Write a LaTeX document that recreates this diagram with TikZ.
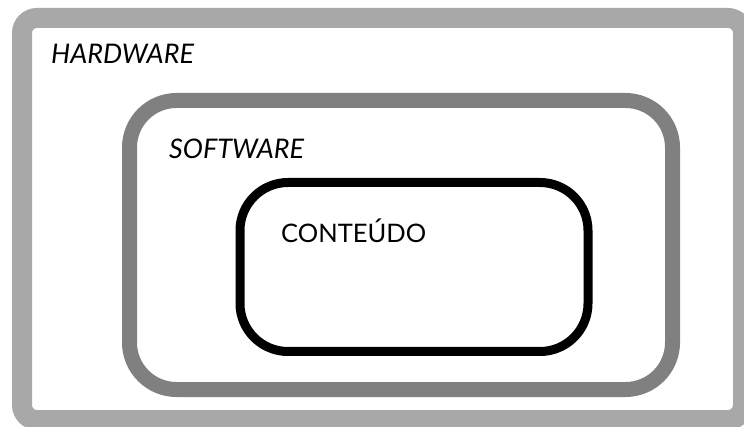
\documentclass[tikz,border=0pt]{standalone}
\usepackage{fontspec}
\setmainfont{Lato}
\definecolor{outergray}{HTML}{A8A8A8}
\definecolor{midgray}{HTML}{808080}
\begin{document}
\begin{tikzpicture}[x=1pt,y=-1pt,
  box/.style={draw, inner sep=0pt, fill=none},
  lbl/.style={anchor=base west, inner sep=0pt, font=\fontsize{27}{32}\selectfont\itshape},
  lblup/.style={anchor=base west, inner sep=0pt, font=\fontsize{25.5}{30}\selectfont}]
\useasboundingbox (0,0) rectangle (744,427);
\node[box, draw=outergray, line width=20pt, rounded corners=15pt,
  minimum width=721pt, minimum height=402pt] (hw) at (382.5,219) {};
\node[box, draw=midgray, line width=15pt, rounded corners=47pt,
  minimum width=543pt, minimum height=289pt] (sw) at (401,245) {};
\node[box, draw=black, line width=9pt, rounded corners=48pt,
  minimum width=348pt, minimum height=169pt] (ct) at (414,267) {};
\node[lbl] (hwl) at (51,64) {HARDWARE};
\node[lbl] (swl) at (169,159) {SOFTWARE};
\node[lblup] (ctl) at (281,243) {CONTEÚDO};
\end{tikzpicture}
\end{document}
